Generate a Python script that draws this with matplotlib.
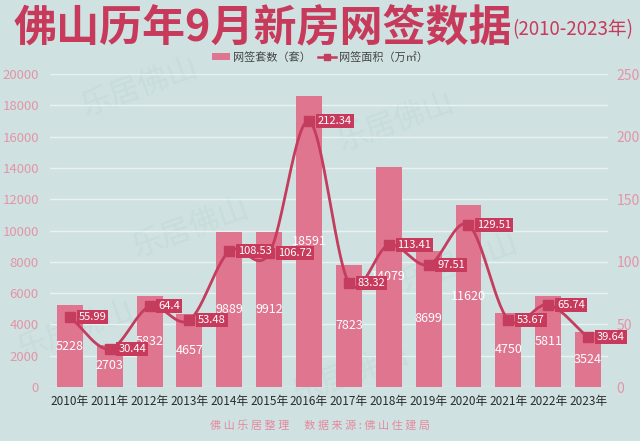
import numpy as np
import matplotlib
matplotlib.use("Agg")
import matplotlib.pyplot as plt
from matplotlib.lines import Line2D
from matplotlib.patches import Patch

plt.rcParams['font.family'] = ['Noto Sans CJK SC', 'DejaVu Sans']

years = ["2010年", "2011年", "2012年", "2013年", "2014年", "2015年", "2016年",
         "2017年", "2018年", "2019年", "2020年", "2021年", "2022年", "2023年"]
units = [5228, 2703, 5832, 4657, 9889, 9912, 18591, 7823, 14079, 8699, 11620, 4750, 5811, 3524]
area = [55.99, 30.44, 64.4, 53.48, 108.53, 106.72, 212.34, 83.32, 113.41, 97.51, 129.51, 53.67, 65.74, 39.64]
area_labels = ["55.99", "30.44", "64.4", "53.48", "108.53", "106.72", "212.34", "83.32",
               "113.41", "97.51", "129.51", "53.67", "65.74", "39.64"]
left_ticks = [0, 2000, 4000, 6000, 8000, 10000, 12000, 14000, 16000, 18000, 20000]
right_ticks = [0, 50, 100, 150, 200, 250]

BG = "#cfe2e1"
BAR = "#e07590"
LINE = "#c43c5e"
BOX = "#c83a5c"
TICKPINK = "#e494a8"
WM = "#c8dcdb"

fig = plt.figure(figsize=(6.4, 4.41), dpi=100, facecolor=BG)

# faint watermarks (behind everything)
for (wx, wy) in [(0.22, 0.80), (0.62, 0.72), (0.30, 0.48), (0.72, 0.40), (0.12, 0.25), (0.55, 0.15)]:
    fig.text(wx, wy, "乐居佛山", color=WM, fontsize=22, rotation=20, ha='center', va='center', zorder=-10)

ax = fig.add_axes([0.078, 0.1224, 0.872, 0.7096], zorder=1)
ax.set_facecolor('none')
ax2 = ax.twinx()

x = np.arange(len(years))
ax.bar(x, units, width=0.65, color=BAR, zorder=2)
for xi, v in zip(x, units):
    ax.text(xi, v / 2, str(v), ha='center', va='center', color='white', fontsize=9, zorder=3)

ax.set_xlim(-0.5, len(years) - 0.5)
ax.set_ylim(0, 20000)
ax.set_yticks(left_ticks)
ax.set_yticklabels([str(t) for t in left_ticks])
ax.tick_params(axis='y', colors=TICKPINK, labelsize=9.5, length=0, pad=8)
ax.set_xticks(x)
ax.set_xticklabels(years)
ax.tick_params(axis='x', colors='#2b2b2b', labelsize=8.5, length=0, pad=6)
ax.grid(axis='y', color='#eaf2f1', linewidth=1.0, zorder=0)
ax.set_axisbelow(True)
for s in ax.spines.values():
    s.set_visible(False)

# smooth (Catmull-Rom) rendering of the line through the data points
xs = x.astype(float)
ys = np.array(area, dtype=float)
px = np.concatenate([[2 * xs[0] - xs[1]], xs, [2 * xs[-1] - xs[-2]]])
py = np.concatenate([[2 * ys[0] - ys[1]], ys, [2 * ys[-1] - ys[-2]]])
cx, cy = [], []
t = np.linspace(0, 1, 30)
for i in range(1, len(px) - 2):
    p0, p1, p2, p3 = (np.array([px[i-1], py[i-1]]), np.array([px[i], py[i]]),
                      np.array([px[i+1], py[i+1]]), np.array([px[i+2], py[i+2]]))
    for tt in t:
        pt = 0.5 * ((2 * p1) + (-p0 + p2) * tt + (2 * p0 - 5 * p1 + 4 * p2 - p3) * tt ** 2
                    + (-p0 + 3 * p1 - 3 * p2 + p3) * tt ** 3)
        cx.append(pt[0]); cy.append(pt[1])
ax2.plot(cx, cy, color=LINE, linewidth=2.0, zorder=4)
ax2.plot(xs, ys, 's', color=LINE, markersize=7, zorder=5)
for xi, v, lab in zip(xs, ys, area_labels):
    ax2.text(xi + 0.22, v, lab, ha='left', va='center', color='white', fontsize=8, zorder=6,
             bbox=dict(boxstyle='square,pad=0.18', facecolor=BOX, edgecolor='none'))

ax2.set_ylim(0, 250)
ax2.set_yticks(right_ticks)
ax2.set_yticklabels([str(t) for t in right_ticks])
ax2.tick_params(axis='y', colors=TICKPINK, labelsize=10, length=0, pad=6)
for s in ax2.spines.values():
    s.set_visible(False)

# title
fig.text(0.022, 0.935, "佛山历年9月新房网签数据", color=BOX, fontsize=31, fontweight='bold',
         ha='left', va='center')
fig.text(0.80, 0.932, "(2010-2023年)", color=BOX, fontsize=13.5, ha='left', va='center')

# legend
handles = [Patch(facecolor=BAR, edgecolor='none'),
           Line2D([0], [0], color=LINE, marker='s', markersize=5, linewidth=1.8)]
fig.legend(handles, ["网签套数（套）", "网签面积（万㎡）"], loc='center', bbox_to_anchor=(0.5, 0.87),
           ncol=2, frameon=False, fontsize=8, handlelength=1.6, handleheight=0.6,
           columnspacing=0.6, handletextpad=0.3, labelcolor='#444444')

# footer
fig.text(0.5, 0.035, "佛 山 乐 居 整 理      数 据 来 源 : 佛 山 住 建 局", color='#e48aa0',
         fontsize=8, ha='center', va='center')

fig.savefig("out.png", dpi=100, facecolor=BG)
